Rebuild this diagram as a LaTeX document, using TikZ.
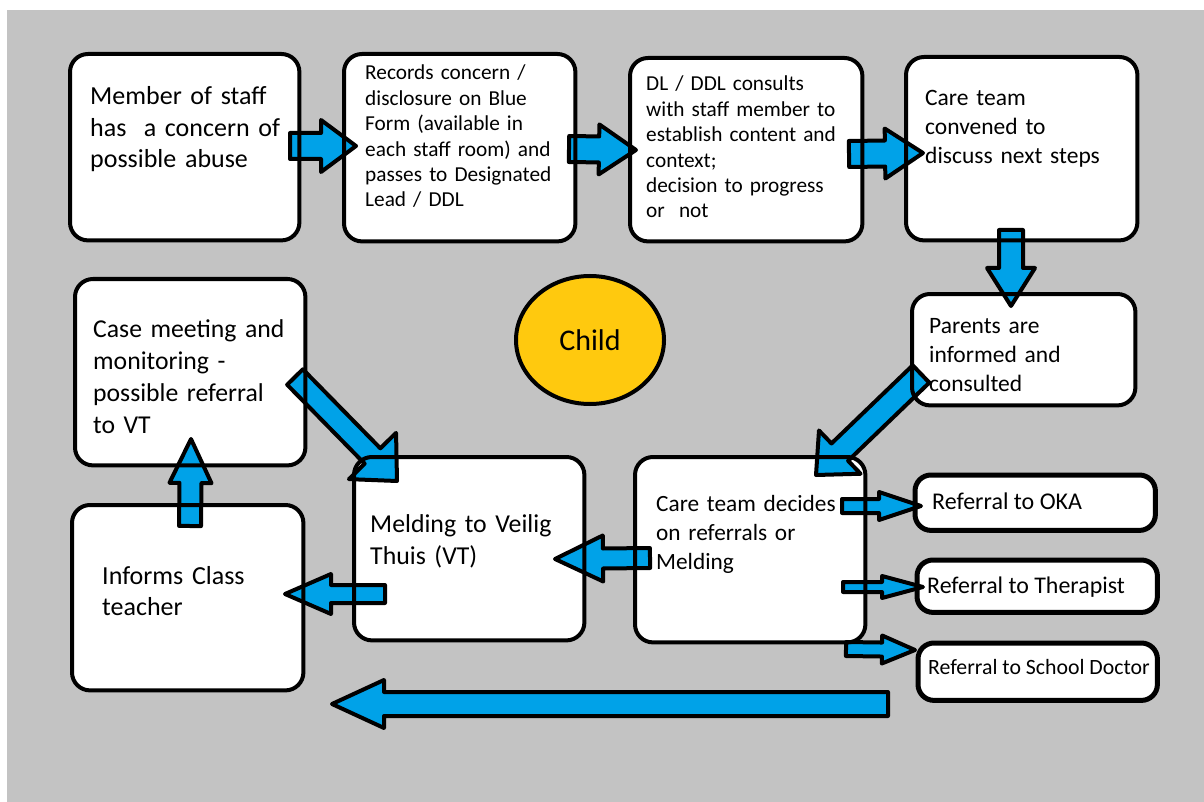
\documentclass[tikz,border=0pt]{standalone}
\usepackage{fontspec}
\setmainfont{Carlito}
\usetikzlibrary{calc,shapes.geometric}
\definecolor{bggray}{RGB}{195,195,195}
\definecolor{arrowblue}{RGB}{0,162,232}
\definecolor{childyellow}{RGB}{255,201,14}
\newcommand\fs[2]{\fontsize{#1}{#2}\selectfont}
\newcommand\blockarrow[5]{%
  \coordinate (bah) at ($(#2)!#5!(#1)$);
  \draw[barrow] (#2) -- ($(bah)!#4!90:(#1)$) -- ($(bah)!#3!90:(#1)$)
    -- ($(#1)!#3!-90:(#2)$) -- ($(#1)!#3!90:(#2)$)
    -- ($(bah)!#3!-90:(#1)$) -- ($(bah)!#4!-90:(#1)$) -- cycle;
}
\tikzset{
  boxfill/.style={fill=white, draw=none, rounded corners=18pt, inner sep=0pt, anchor=north west},
  boxline/.style={draw=black, line width=4pt, rounded corners=18pt},
  refline/.style={draw=black, line width=5pt, rounded corners=16pt},
  barrow/.style={fill=arrowblue, draw=black, line width=4pt, line join=round},
  txt/.style={anchor=base west, inner sep=0pt, align=left, text=black},
}
\begin{document}
\begin{tikzpicture}[x=1pt,y=-1pt]
\useasboundingbox (0,0) rectangle (1204,802);
\fill[white] (0,0) rectangle (1204,802);
\fill[bggray] (7,10) rectangle (1204,802);

% box fills
\node[boxfill, minimum width=229pt, minimum height=186pt] (b1) at (70,54) {};
\node[boxfill, minimum width=231pt, minimum height=187pt] (b2) at (344,54) {};
\node[boxfill, minimum width=232pt, minimum height=183pt] (b3) at (630,58) {};
\node[boxfill, minimum width=231pt, minimum height=183pt] (b4) at (906,57) {};
\node[boxfill, minimum width=223pt, minimum height=111pt] (b5) at (912,294) {};
\node[boxfill, minimum width=230pt, minimum height=186pt] (b6) at (75,279) {};
\node[boxfill, minimum width=231pt, minimum height=185pt] (b7) at (72,505) {};
\node[boxfill, minimum width=230pt, minimum height=183pt] (b8) at (354,457) {};
\node[boxfill, minimum width=230pt, minimum height=185pt] (b9) at (635,457) {};
\node[boxfill, rounded corners=16pt, minimum width=240pt, minimum height=55pt] (r1) at (915,475) {};
\node[boxfill, rounded corners=16pt, minimum width=240pt, minimum height=52pt] (r2) at (917,560) {};
\node[boxfill, rounded corners=16pt, minimum width=239pt, minimum height=57pt] (r3) at (918,643) {};

% child
\node[ellipse, fill=childyellow, draw=black, line width=4pt, minimum width=148pt, minimum height=128pt, inner sep=0pt,
      font=\fs{30}{36}] (child) at (590,340) {Child};

% arrow end points
\coordinate (a1s) at (290,146);  \coordinate (a1e) at (356,146);
\coordinate (a2s) at (569,149);  \coordinate (a2e) at (636,150);
\coordinate (a3s) at (849,154);  \coordinate (a3e) at (923,153);
\coordinate (a4s) at (1011,230); \coordinate (a4e) at (1011,306);
\coordinate (a5s) at (921,374);  \coordinate (a5e) at (816,475);
\coordinate (a6s) at (650,558);  \coordinate (a6e) at (555,559);
\coordinate (a7s) at (385,594);  \coordinate (a7e) at (285,594);
\coordinate (a8s) at (190,526);  \coordinate (a8e) at (191,439);
\coordinate (a9s) at (295,377);  \coordinate (a9e) at (397,481);
\coordinate (a10s) at (842,506); \coordinate (a10e) at (921,506);
\coordinate (a11s) at (843,587); \coordinate (a11e) at (923,587);
\coordinate (a12s) at (846,649); \coordinate (a12e) at (915,650);
\coordinate (a13s) at (888,704); \coordinate (a13e) at (332,704);

\blockarrow{a1s}{a1e}{13pt}{26pt}{35pt}
\blockarrow{a2s}{a2e}{13pt}{25pt}{37pt}
\blockarrow{a3s}{a3e}{13pt}{25pt}{38pt}
\blockarrow{a4s}{a4e}{12pt}{24pt}{38pt}
\blockarrow{a5s}{a5e}{12pt}{30pt}{33pt}
\blockarrow{a6s}{a6e}{10pt}{23pt}{48pt}
\blockarrow{a7s}{a7e}{9pt}{20pt}{46pt}
\blockarrow{a8s}{a8e}{11pt}{21pt}{44pt}
\blockarrow{a9s}{a9e}{11pt}{33pt}{35pt}
\blockarrow{a10s}{a10e}{7pt}{14pt}{42pt}
\blockarrow{a11s}{a11e}{5pt}{11pt}{41pt}
\blockarrow{a12s}{a12e}{7pt}{14pt}{33pt}
\blockarrow{a13s}{a13e}{12pt}{24pt}{52pt}

% box borders on top
\foreach \n in {b1,b2,b3,b4,b5,b6,b7,b8,b9}
  \draw[boxline] (\n.north west) rectangle (\n.south east);
\foreach \n in {r1,r2,r3}
  \draw[refline] (\n.north west) rectangle (\n.south east);

% texts
\node[txt, text width=210pt, font=\fs{26}{31.5}] (t1) at (90,105) {Member of staff\\has\ \ a concern of\\possible abuse};
\node[txt, text width=210pt, font=\fs{21.3}{25.4}] (t2) at (365,80) {Records concern /\\disclosure on Blue\\Form (available in\\each staff room) and\\passes to Designated\\Lead / DDL};
\node[txt, text width=210pt, font=\fs{21.3}{25.4}] (t3) at (646,91) {DL / DDL consults\\with staff member to\\establish content and\\context;\\decision to progress\\or\ \ not};
\node[txt, text width=210pt, font=\fs{23.5}{29}] (t4) at (925,106) {Care team\\convened to\\discuss next steps};
\node[txt, text width=200pt, font=\fs{23.5}{29}] (t5) at (929,333) {Parents are\\informed and\\consulted};
\node[txt, text width=210pt, font=\fs{25.7}{32}] (t6) at (93,337) {Case meeting and\\monitoring -\\possible referral\\to VT};
\node[txt, text width=200pt, font=\fs{26}{31.5}] (t7) at (102,584) {Informs Class\\teacher};
\node[txt, text width=210pt, font=\fs{25.8}{32}] (t8) at (370,532) {Melding to Veilig\\Thuis (VT)};
\node[txt, text width=210pt, font=\fs{23.3}{29}] (t9) at (656,511) {Care team decides\\on referrals or\\Melding};
\node[txt, font=\fs{24}{29}] (t10) at (932,509) {Referral to OKA};
\node[txt, font=\fs{23.9}{29}] (t11) at (927,593) {Referral to Therapist};
\node[txt, font=\fs{21.8}{29}] (t12) at (928,674) {Referral to School Doctor};
\end{tikzpicture}
\end{document}
